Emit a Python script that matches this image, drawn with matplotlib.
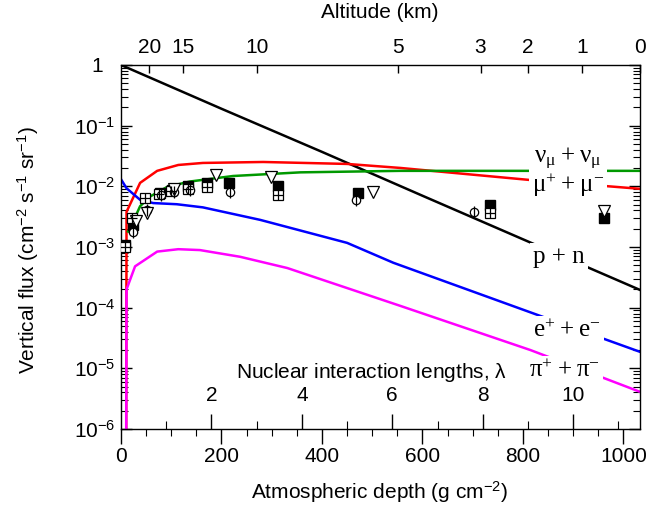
import matplotlib
matplotlib.use('Agg')
import matplotlib.pyplot as plt
import matplotlib.ticker as mticker

plt.rcParams['font.family'] = ['Liberation Sans', 'DejaVu Sans']
plt.rcParams['mathtext.default'] = 'regular'

# ---------------- data ----------------
depth_pn = [0, 200, 400, 600, 800, 1033]
flux_pn = [1.0, 0.19, 0.037, 7.0e-3, 1.34e-3, 1.96e-4]

depth_mu = [10, 11, 38, 72, 114, 163, 283, 450, 556, 815, 1033]
flux_mu = [1e-8, 3.8e-3, 1.14e-2, 1.8e-2, 2.25e-2, 2.43e-2, 2.52e-2, 2.34e-2, 2.01e-2, 1.27e-2, 9.1e-3]

depth_nu = [14, 24, 38, 58, 92, 137, 223, 357, 556, 800, 1033]
flux_nu = [1.8e-3, 2.6e-3, 4.7e-3, 6.8e-3, 9.8e-3, 1.2e-2, 1.48e-2, 1.7e-2, 1.8e-2, 1.8e-2, 1.8e-2]

depth_e = [0, 11, 38, 64, 111, 163, 277, 450, 542, 845, 1033]
flux_e = [1.31e-2, 9.3e-3, 6.0e-3, 5.3e-3, 5.07e-3, 4.5e-3, 2.8e-3, 1.17e-3, 5.5e-4, 6.8e-5, 1.87e-5]

depth_pi = [10, 11, 28, 72, 114, 157, 237, 331, 556, 815, 1033]
flux_pi = [1e-8, 2.0e-4, 4.8e-4, 8.4e-4, 9.2e-4, 8.9e-4, 6.9e-4, 4.5e-4, 1.07e-4, 2.0e-5, 4.1e-6]

# measurements (muons)
sq_depth = [8, 24, 78, 102, 134, 171, 215, 313, 472, 735, 962]
sq_flux = [1.08e-3, 2.3e-3, 7.8e-3, 8.7e-3, 1.0e-2, 1.13e-2, 1.13e-2, 1.0e-2, 7.8e-3, 5.0e-3, 3.0e-3]

box_depth = [8, 22, 48, 75, 100, 134, 171, 313, 735]
box_flux = [1.0e-3, 3.0e-3, 6.4e-3, 7.5e-3, 8.3e-3, 9.2e-3, 9.8e-3, 7.2e-3, 3.7e-3]

circ_depth = [24, 52, 80, 105, 138, 217, 468, 702]
circ_flux = [1.8e-3, 4.0e-3, 7.2e-3, 8.0e-3, 8.8e-3, 8.1e-3, 6.0e-3, 3.8e-3]

tri_depth = [30, 52, 105, 189, 299, 502, 962]
tri_flux = [2.7e-3, 3.6e-3, 9.0e-3, 1.55e-2, 1.44e-2, 8.1e-3, 3.9e-3]

alt_km = ['20', '15', '10', '5', '3', '2', '1', '0']
alt_depth = [56.5, 123.3, 270.6, 551.1, 715.6, 810.3, 917.4, 1033]

lambda_vals = [1, 2, 3, 4, 5, 6, 7, 8, 9, 10, 11]
lambda_len = 90.0

ytick_vals = [1, 1e-1, 1e-2, 1e-3, 1e-4, 1e-5, 1e-6]
ytick_labels = ['1  ', '10$^{-1}$', '10$^{-2}$', '10$^{-3}$', '10$^{-4}$', '10$^{-5}$', '10$^{-6}$']

# ---------------- figure ----------------
W, H = 646, 508
fig = plt.figure(figsize=(W / 100, H / 100), dpi=100)
x0, x1, y0, y1 = 121, 640, 65, 429
ax = fig.add_axes([x0 / W, 1 - y1 / H, (x1 - x0) / W, (y1 - y0) / H])

XMAX = 1033
ax.set_xlim(0, XMAX)
ax.set_yscale('log')
ax.set_ylim(1e-6, 1)

lw = 1.8
ax.plot(depth_pn, flux_pn, color='black', lw=lw, zorder=2)
ax.plot(depth_mu, flux_mu, color='#ff0000', lw=lw, zorder=2)
ax.plot(depth_nu, flux_nu, color='#009900', lw=lw, zorder=2)
ax.plot(depth_e, flux_e, color='#0000ff', lw=lw, zorder=2)
ax.plot(depth_pi, flux_pi, color='#ff00ff', lw=lw, zorder=2)

ms = 7
ax.plot(sq_depth, sq_flux, 's', ms=ms, mfc='black', mec='black', zorder=5)
ax.plot(box_depth, box_flux, 's', ms=ms, mfc='white', mec='black', mew=0.9, zorder=5)
ax.plot(box_depth, box_flux, '+', ms=ms, mec='black', mew=0.9, zorder=6)
ax.plot(circ_depth, circ_flux, 'o', ms=6, mfc='white', mec='black', mew=0.9, zorder=5)
ax.plot(circ_depth, circ_flux, '|', ms=9, mec='black', mew=0.9, zorder=6)
ax.plot(tri_depth, tri_flux, 'v', ms=9, mfc='white', mec='black', mew=0.9, zorder=5)

# labels for the curves
lab_kw = dict(family=['Liberation Serif', 'DejaVu Serif'], fontsize=18, ha='center', va='center',
              zorder=4, bbox=dict(boxstyle='square,pad=0.12', fc='white', ec='none'))
ax.text(890, 10 ** -1.56, r'$\nu_\mu + \nu_\mu$', **lab_kw)
ax.text(890, 10 ** -1.98, r'$\mu^{+} + \mu^{-}$', **lab_kw)
ax.text(872, 10 ** -3.16, 'p + n', **lab_kw)
ax.text(888, 10 ** -4.37, r'$e^{+} + e^{-}$', **lab_kw)
ax.text(882, 10 ** -5.03, r'$\pi^{+} + \pi^{-}$', **lab_kw)

# axes ticks
fs = 15
ax.set_yticks(ytick_vals)
ax.set_yticklabels(ytick_labels)
ax.yaxis.set_minor_locator(mticker.LogLocator(base=10, subs=range(2, 10), numticks=20))
ax.yaxis.set_minor_formatter(mticker.NullFormatter())
ax.tick_params(axis='y', which='both', direction='in', left=True, right=True, labelsize=fs, pad=4)
ax.tick_params(axis='y', which='major', length=8, width=1)
ax.tick_params(axis='y', which='minor', length=5, width=0.8)

ax.set_xticks([0, 200, 400, 600, 800, 1000])
ax.xaxis.set_minor_locator(mticker.MultipleLocator(50))
ax.tick_params(axis='x', which='both', direction='out', top=False, bottom=True, labelsize=fs, pad=2)
ax.tick_params(axis='x', which='major', length=11, width=1)
ax.tick_params(axis='x', which='minor', length=5, width=0.8)

# altitude axis (top)
ax2 = ax.twiny()
ax2.set_xlim(0, XMAX)
ax2.set_xticks(alt_depth)
ax2.set_xticklabels(alt_km)
ax2.xaxis.set_minor_locator(mticker.NullLocator())
ax2.tick_params(axis='x', direction='in', length=6, width=1, labelsize=fs, pad=6)

# nuclear interaction length axis (inside, at bottom)
ax3 = ax.twiny()
ax3.set_xlim(0, XMAX)
ax3.xaxis.tick_bottom()
ax3.set_xticks([lam * lambda_len for lam in lambda_vals if lam % 2 == 0])
ax3.set_xticklabels([str(lam) for lam in lambda_vals if lam % 2 == 0])
ax3.set_xticks([lam * lambda_len for lam in lambda_vals if lam % 2 == 1], minor=True)
ax3.tick_params(axis='x', which='major', direction='in', length=11, width=1, labelsize=fs, pad=-31)
ax3.tick_params(axis='x', which='minor', direction='in', length=6, width=0.8)
for a in (ax2, ax3):
    for s in a.spines.values():
        s.set_visible(False)

for s in ax.spines.values():
    s.set_linewidth(1.0)

ax.text(498, 0.155, r'Nuclear interaction lengths, $\lambda$', transform=ax.get_xaxis_transform(),
        ha='center', va='center', fontsize=fs)

fig.text(380 / W, 1 - 12 / H, 'Altitude (km)', ha='center', va='center', fontsize=fs)
fig.text(380 / W, 1 - 492 / H, 'Atmospheric depth (g cm$^{-2}$)', ha='center', va='center', fontsize=fs)
fig.text(28 / W, 1 - 250 / H, 'Vertical flux (cm$^{-2}$ s$^{-1}$ sr$^{-1}$)', ha='center', va='center',
         rotation=90, fontsize=fs)

fig.savefig('out.png', dpi=100)
